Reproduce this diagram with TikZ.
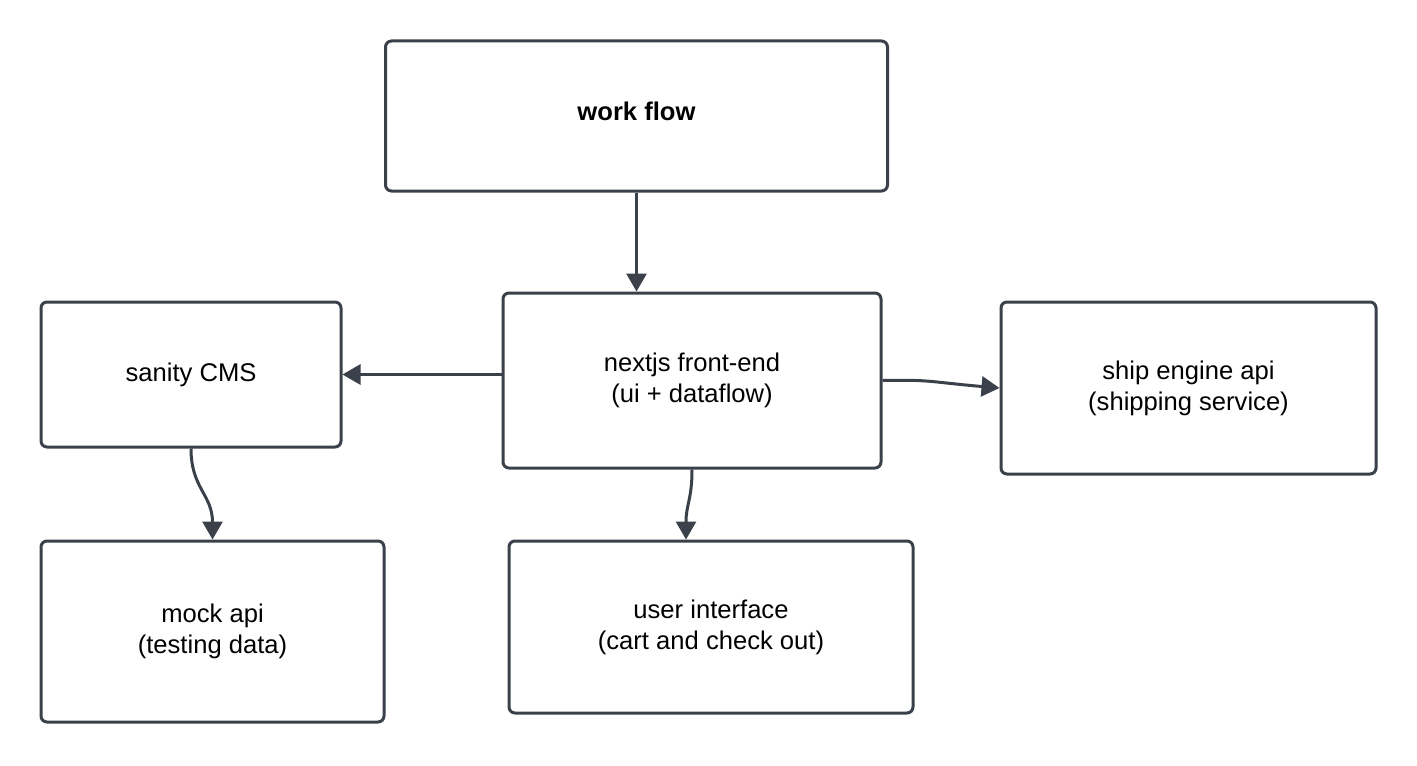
\documentclass[tikz,border=0pt]{standalone}
\usepackage{fontspec}
\setmainfont{Liberation Sans}
\usetikzlibrary{arrows.meta,calc}
\definecolor{ink}{HTML}{3A414A}
\begin{document}
\begin{tikzpicture}[x=0.5pt,y=-0.5pt,
  box/.style={draw=ink,line width=1.5pt,rounded corners=3pt,fill=white,align=center,inner sep=0pt,
    font=\fontsize{12.8}{15.5}\selectfont},
  conn/.style={draw=ink,line width=1.5pt,-{Triangle[length=9pt,width=10pt]}}]
\useasboundingbox[fill=white] (0,0) rectangle (1417,765);
\node[box,minimum width=251pt,minimum height=75pt] (wf) at (636.5,116) {\raisebox{2.5pt}[\height][\depth]{\textbf{work flow}}};
\node[box,minimum width=189pt,minimum height=87.5pt] (nx) at (692,380.5) {nextjs front-end\\(ui + dataflow)};
\node[box,minimum width=150pt,minimum height=72.5pt] (sc) at (191,374.5) {sanity CMS};
\node[box,minimum width=187.5pt,minimum height=86pt] (sh) at (1188.5,388) {ship engine api\\(shipping service)};
\node[box,minimum width=171.5pt,minimum height=90.5pt] (mk) at (212.5,631.5) {mock api\\(testing data)};
\node[box,minimum width=202pt,minimum height=86pt] (ui) at (711,627) {user interface\\(cart and check out)};
\draw[conn] (wf.south) -- (wf.south |- nx.north);
\draw[conn] (nx.west |- sc.east) -- (sc.east);
\draw[conn] (nx.east) .. controls ($(nx.east)+(50,-1)$) and ($(sh.west)+(-70,-6)$) .. (sh.west);
\coordinate (uitop) at ($(ui.north)+(-25,0)$);
\draw[conn] (nx.south) .. controls ($(nx.south)+(0,30)$) and ($(uitop)+(0,-35)$) .. (uitop);
\draw[conn] (sc.south) .. controls ($(sc.south)+(0,40)$) and ($(mk.north)+(0,-45)$) .. (mk.north);
\end{tikzpicture}
\end{document}
